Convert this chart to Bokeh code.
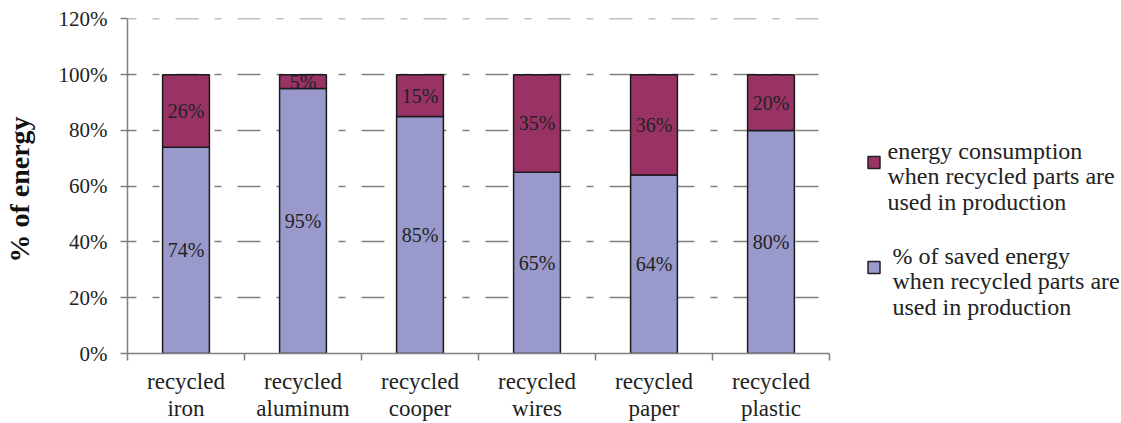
from bokeh.plotting import figure
from bokeh.layouts import row
from bokeh.models import Range1d, FixedTicker, NumeralTickFormatter, ColumnDataSource, LabelSet
from bokeh.embed import file_html
from bokeh.resources import INLINE

categories = ["recycled\niron", "recycled\naluminum", "recycled\ncooper",
              "recycled\nwires", "recycled\npaper", "recycled\nplastic"]
saved = [74, 95, 85, 65, 64, 80]
consumption = [26, 5, 15, 35, 36, 20]
legend_consumption = ["energy consumption", "when recycled parts are", "used in production"]
legend_saved = ["% of saved energy", "when recycled parts are", "used in production"]
y_ticks = [0, 20, 40, 60, 80, 100, 120]

SAVED_COLOR = "#9999CC"
CONS_COLOR = "#993366"
FONT = "Liberation Serif"
GRAY = "#808080"

n = len(categories)
xs = [i + 0.5 for i in range(n)]
saved_f = [v / 100 for v in saved]
cons_f = [v / 100 for v in consumption]
total_f = [a + b for a, b in zip(saved_f, cons_f)]

src = ColumnDataSource(dict(
    x=xs, saved=saved_f, cons=cons_f, total=total_f,
    saved_mid=[s / 2 for s in saved_f],
    cons_mid=[s + c / 2 for s, c in zip(saved_f, cons_f)],
    saved_lbl=[f"{v}%" for v in saved],
    cons_lbl=[f"{v}%" for v in consumption],
))

FRAME_TOP, FRAME_H, BOTTOM = 18, 335, 70

p = figure(frame_width=702, frame_height=FRAME_H, x_range=Range1d(0, n), y_range=Range1d(0, 1.2015),
           output_backend="svg", toolbar_location=None,
           min_border_left=127, min_border_right=21, min_border_top=FRAME_TOP,
           min_border_bottom=BOTTOM)
p.outline_line_color = None
p.background_fill_color = "white"
p.border_fill_color = "white"

# grid
p.xgrid.visible = False
p.ygrid.ticker = FixedTicker(ticks=[t / 100 for t in y_ticks if t > 0])
p.ygrid.grid_line_color = GRAY
p.ygrid.grid_line_width = 1.5
p.ygrid.grid_line_dash = "23 16 7 16"
p.ygrid.grid_line_dash_offset = 14

# bars
BAR_W = 0.40
p.vbar(x="x", top="saved", bottom=0, width=BAR_W, source=src,
       fill_color=SAVED_COLOR, line_color="#1a1a1a", line_width=1.5)
p.vbar(x="x", top="total", bottom="saved", width=BAR_W, source=src,
       fill_color=CONS_COLOR, line_color="#1a1a1a", line_width=1.5)

for ycol, tcol in (("saved_mid", "saved_lbl"), ("cons_mid", "cons_lbl")):
    p.add_layout(LabelSet(x="x", y=ycol, text=tcol, source=src, text_align="center",
                          text_baseline="middle", text_font=FONT, text_font_size="20px",
                          text_color="#222222"))

# y axis
ya = p.yaxis[0]
ya.ticker = FixedTicker(ticks=[t / 100 for t in y_ticks])
ya.formatter = NumeralTickFormatter(format="0%")
ya.axis_line_color = GRAY
ya.axis_line_width = 1.5
ya.major_tick_line_color = GRAY
ya.major_tick_line_width = 1.5
ya.major_tick_out = 7
ya.major_tick_in = 0
ya.minor_tick_line_color = None
ya.major_label_text_font = FONT
ya.major_label_text_font_size = "21px"
ya.major_label_text_color = "#222222"
ya.major_label_standoff = 13
ya.axis_label = "%  of energy"
ya.axis_label_text_font = FONT
ya.axis_label_text_font_style = "bold"
ya.axis_label_text_font_size = "28px"
ya.axis_label_text_color = "#111111"
ya.axis_label_standoff = 21

# x axis
xa = p.xaxis[0]
xa.ticker = FixedTicker(ticks=xs, minor_ticks=list(range(n + 1)))
xa.major_label_overrides = {x: c for x, c in zip(xs, categories)}
xa.axis_line_color = GRAY
xa.axis_line_width = 1.5
xa.major_tick_line_color = None
xa.minor_tick_line_color = GRAY
xa.minor_tick_line_width = 1.5
xa.minor_tick_out = 7
xa.minor_tick_in = 0
xa.major_label_text_font = FONT
xa.major_label_text_font_size = "23px"
xa.major_label_text_line_height = 1.1
xa.major_label_text_color = "#222222"
xa.major_label_standoff = 8

# legend panel (screen-like coordinates: x from its left edge, y from window top)
lg = figure(frame_width=271, frame_height=FRAME_H, x_range=Range1d(0, 271),
            y_range=Range1d(FRAME_TOP + FRAME_H, FRAME_TOP),
            output_backend="svg", toolbar_location=None,
            min_border_left=0, min_border_right=0, min_border_top=FRAME_TOP,
            min_border_bottom=BOTTOM)
lg.outline_line_color = None
lg.axis.visible = False
lg.grid.visible = False

groups = [(CONS_COLOR, legend_consumption, 150, 37), (SAVED_COLOR, legend_saved, 255, 42)]
for color, lines, y0, tx in groups:
    lg.rect(x=[23.5], y=[y0 + 12], width=12, height=12, fill_color=color,
            line_color="#222222", line_width=1.5)
    ys = [y0 + 25.5 * i for i in range(len(lines))]
    lsrc = ColumnDataSource(dict(x=[tx] * len(lines), y=ys, t=lines))
    lg.add_layout(LabelSet(x="x", y="y", text="t", source=lsrc, text_align="left",
                           text_baseline="middle", text_font=FONT, text_font_size="24px",
                           text_color="#222222"))

layout = row(p, lg)
open("out.html", "w").write(file_html(layout, INLINE))
